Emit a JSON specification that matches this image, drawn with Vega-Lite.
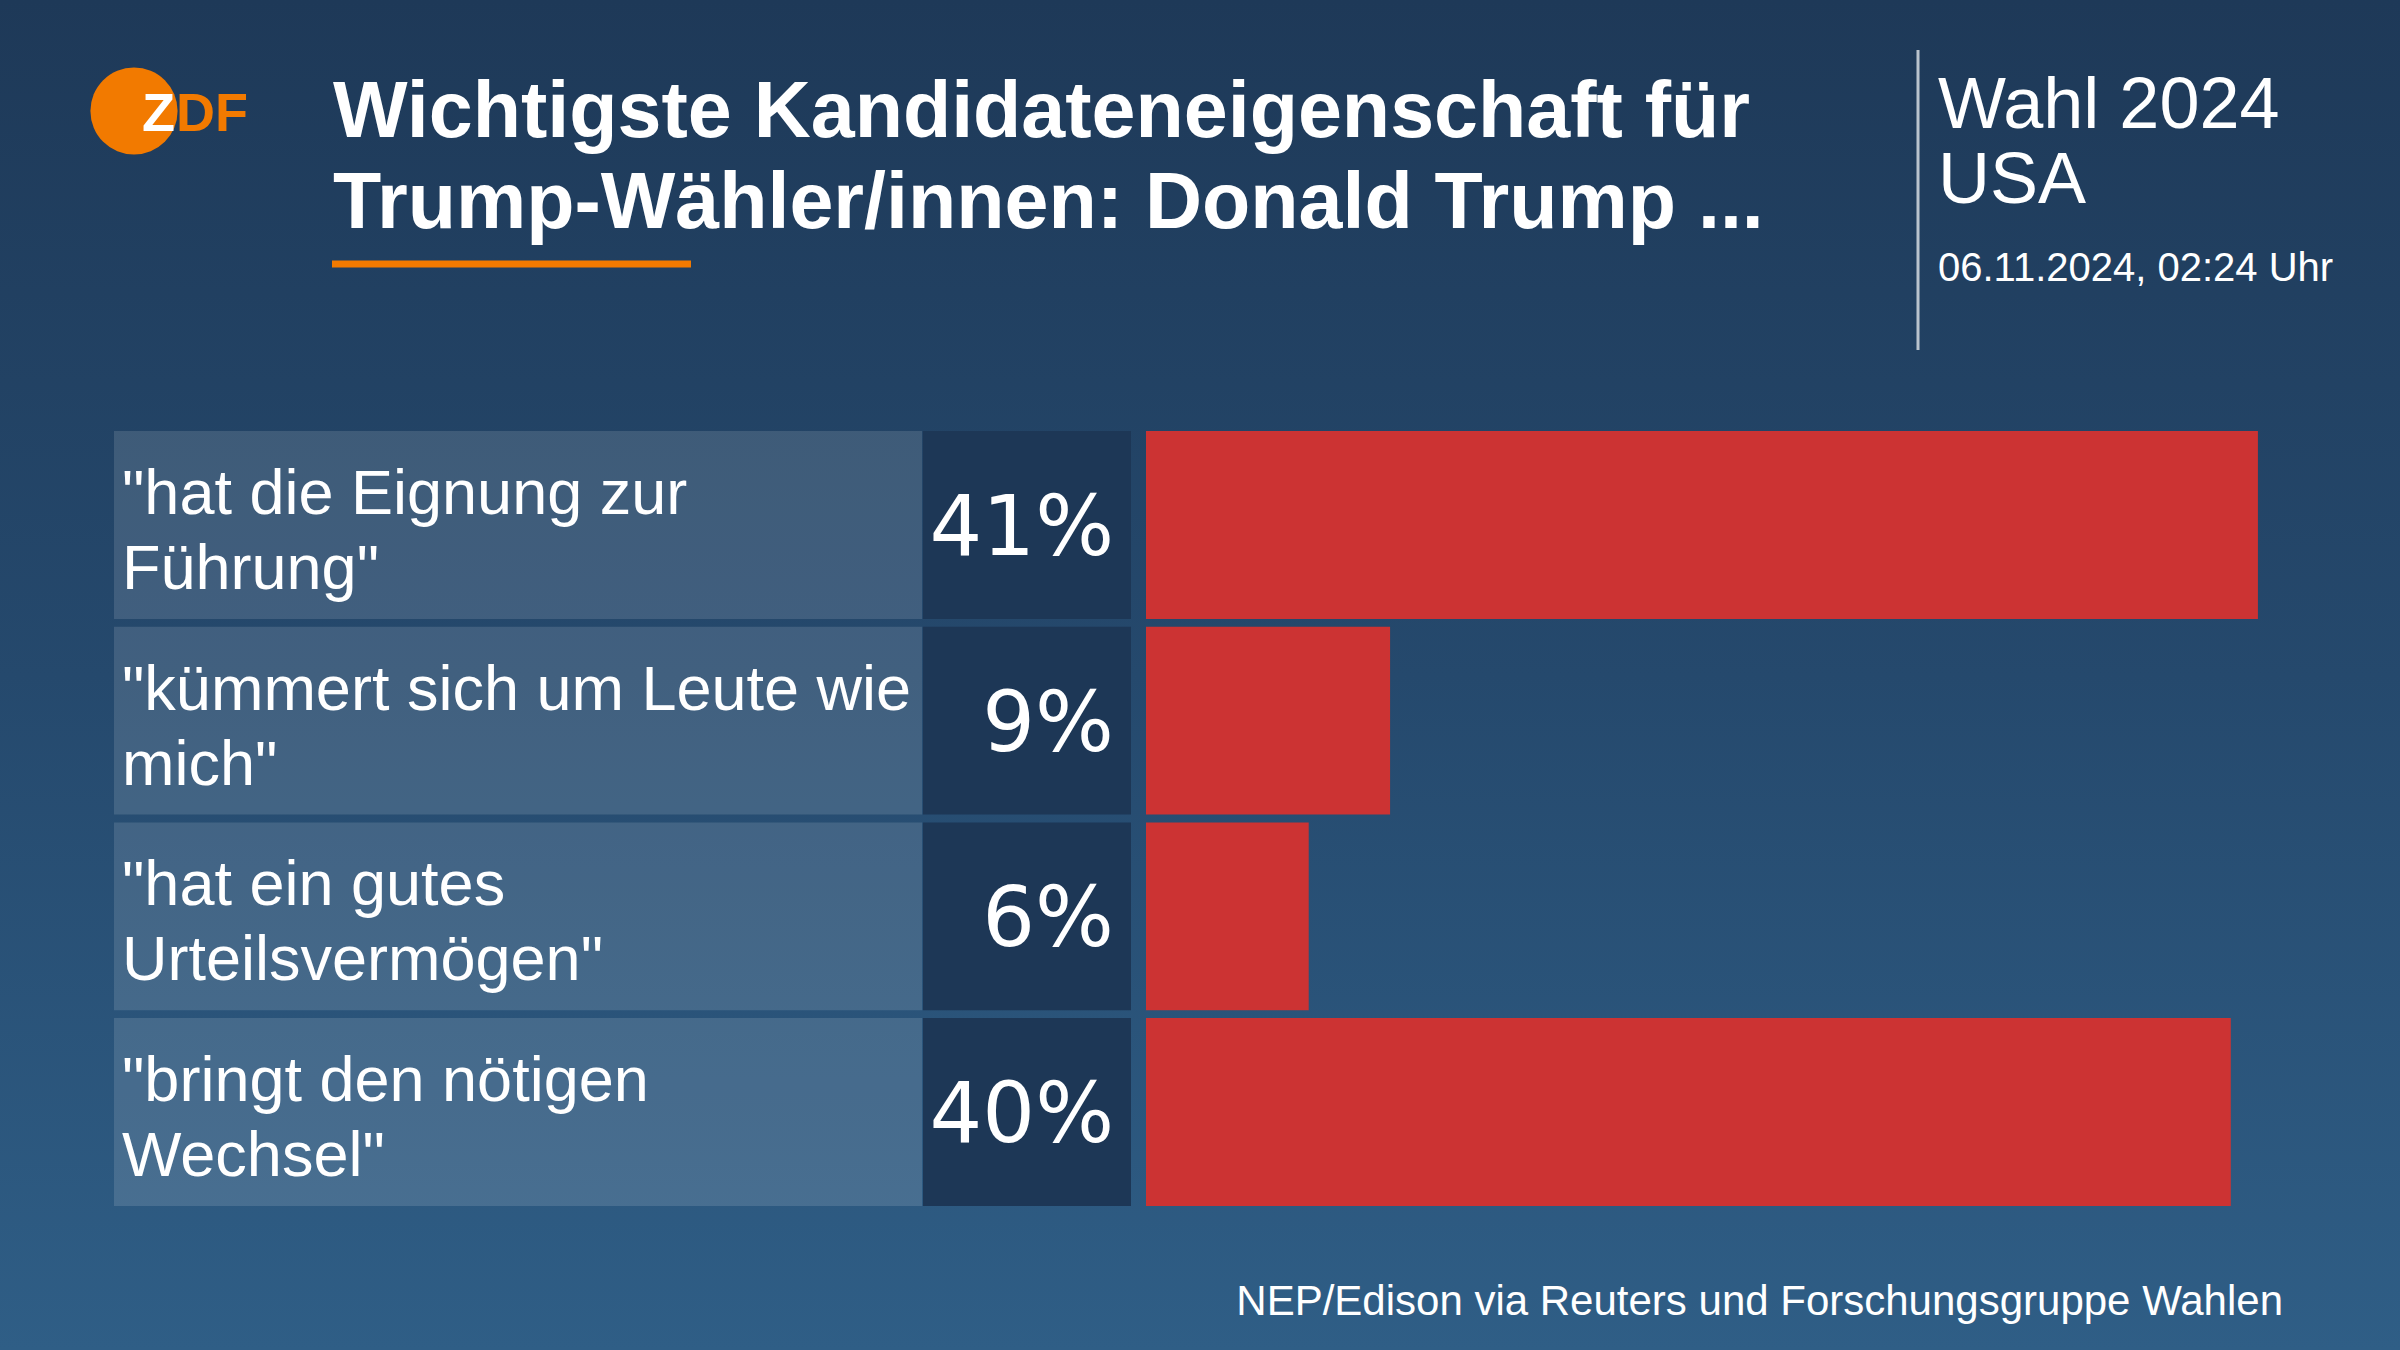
{
  "$schema": "https://vega.github.io/schema/vega-lite/v6.json",
  "width": 2400,
  "height": 1350,
  "padding": 0,
  "autosize": {"type": "none"},
  "background": "#1f3b5c",
  "config": {"view": {"stroke": null}, "font": "Liberation Sans"},
  "title": {
    "text": ["Wichtigste Kandidateneigenschaft für", "Trump-Wähler/innen: Donald Trump ..."],
    "anchor": "start",
    "frame": "group",
    "orient": "top",
    "offset": -307,
    "dx": 333,
    "baseline": "alphabetic",
    "font": "Liberation Sans",
    "fontWeight": "bold",
    "fontSize": 79,
    "lineHeight": 91,
    "color": "#ffffff"
  },
  "data": {
    "values": [
      {"label": "\"hat die Eignung zur\nFührung\"", "pct": 0.41},
      {"label": "\"kümmert sich um Leute wie\nmich\"", "pct": 0.09},
      {"label": "\"hat ein gutes\nUrteilsvermögen\"", "pct": 0.06},
      {"label": "\"bringt den nötigen\nWechsel\"", "pct": 0.40}
    ]
  },
  "layer": [
    {
      "data": {"values": [{}]},
      "mark": {
        "type": "rect",
        "color": {
          "gradient": "linear",
          "x1": 0, "y1": 0, "x2": 0, "y2": 1,
          "stops": [
            {"offset": 0, "color": "#1e3958"},
            {"offset": 0.5, "color": "#25496d"},
            {"offset": 1, "color": "#2f5e86"}
          ]
        }
      },
      "encoding": {}
    },
    {
      "layer": [
        {
          "mark": {"type": "rect", "fill": "#ffffff", "fillOpacity": 0.13},
          "encoding": {
            "y": {"field": "label", "type": "nominal", "sort": null, "scale": {"range": [431, 1206], "paddingInner": 0.04, "paddingOuter": 0}, "axis": null},
            "x": {"datum": 0, "type": "quantitative", "scale": {"domain": [0, 1], "range": [114, 922]}, "axis": null},
            "x2": {"datum": 1}
          }
        },
        {
          "mark": {"type": "text", "align": "left", "baseline": "middle", "dx": 8, "dy": -30, "font": "Liberation Sans", "fontSize": 63, "lineHeight": 75, "lineBreak": "\n", "color": "#ffffff"},
          "encoding": {
            "y": {"field": "label", "type": "nominal", "sort": null},
            "x": {"datum": 0, "type": "quantitative"},
            "text": {"field": "label"}
          }
        }
      ]
    },
    {
      "layer": [
        {
          "mark": {"type": "rect", "fill": "#1d3756"},
          "encoding": {
            "y": {"field": "label", "type": "nominal", "sort": null},
            "x": {"datum": 0, "type": "quantitative", "scale": {"domain": [0, 1], "range": [923, 1131]}, "axis": null},
            "x2": {"datum": 1}
          }
        },
        {
          "mark": {"type": "text", "align": "right", "baseline": "alphabetic", "dx": -17, "dy": 30, "font": "DejaVu Sans", "fontSize": 83, "color": "#ffffff"},
          "encoding": {
            "y": {"field": "label", "type": "nominal", "sort": null},
            "x": {"datum": 1, "type": "quantitative"},
            "text": {"field": "pct", "type": "quantitative", "format": ".0%"}
          }
        }
      ]
    },
    {
      "mark": {"type": "bar", "color": "#cc3333"},
      "encoding": {
        "y": {"field": "label", "type": "nominal", "sort": null},
        "x": {"field": "pct", "type": "quantitative", "scale": {"domain": [0, 0.45], "range": [1146, 2366.4]}, "axis": null}
      }
    },
    {
      "data": {"values": [{}]},
      "layer": [
        {"mark": {"type": "point", "shape": "circle", "filled": true, "color": "#f27a00", "opacity": 1, "size": 7600}, "encoding": {"x": {"value": 134}, "y": {"value": 111}}},
        {"mark": {"type": "text", "text": "Z", "align": "left", "baseline": "alphabetic", "font": "Liberation Sans", "fontWeight": "bold", "fontSize": 54, "color": "#ffffff"}, "encoding": {"x": {"value": 142}, "y": {"value": 131}}},
        {"mark": {"type": "text", "text": "DF", "align": "left", "baseline": "alphabetic", "font": "Liberation Sans", "fontWeight": "bold", "fontSize": 54, "color": "#f27a00"}, "encoding": {"x": {"value": 176}, "y": {"value": 131}}},
        {"mark": {"type": "rule", "color": "#f27a00", "strokeWidth": 7}, "encoding": {"x": {"value": 332}, "x2": {"value": 691}, "y": {"value": 264}}},
        {"mark": {"type": "rule", "color": "#b9c3cd", "strokeWidth": 3}, "encoding": {"x": {"value": 1918}, "y": {"value": 50}, "y2": {"value": 350}}},
        {"mark": {"type": "text", "text": ["Wahl 2024", "USA"], "align": "left", "baseline": "alphabetic", "font": "Liberation Sans", "fontSize": 72, "lineHeight": 75, "color": "#ffffff"}, "encoding": {"x": {"value": 1938}, "y": {"value": 128}}},
        {"mark": {"type": "text", "text": "06.11.2024, 02:24 Uhr", "align": "left", "baseline": "alphabetic", "font": "Liberation Sans", "fontSize": 40, "color": "#ffffff"}, "encoding": {"x": {"value": 1938}, "y": {"value": 281}}},
        {"mark": {"type": "text", "text": "NEP/Edison via Reuters und Forschungsgruppe Wahlen", "align": "right", "baseline": "alphabetic", "font": "Liberation Sans", "fontSize": 42, "color": "#ffffff"}, "encoding": {"x": {"value": 2283}, "y": {"value": 1315}}}
      ]
    }
  ],
  "resolve": {"scale": {"x": "independent"}}
}
